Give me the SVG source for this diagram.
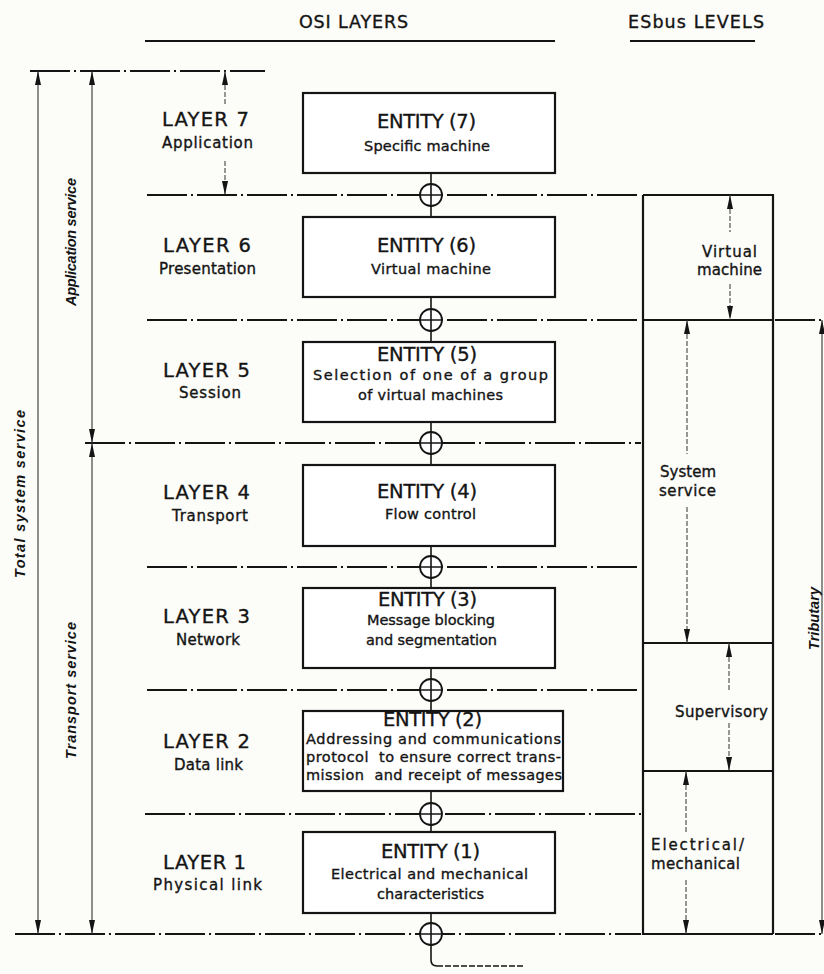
<svg xmlns="http://www.w3.org/2000/svg" width="824" height="974" viewBox="0 0 824 974">
  <style>
    text { font-family: "DejaVu Sans", "Liberation Sans", sans-serif; fill: #141414; stroke: #141414; stroke-width: 0.35; }
    .hdr { font-size: 17.5px; }
    .lay { font-size: 19.5px; }
    .sub { font-size: 15px; }
    .ent { font-size: 19.5px; }
    .desc { font-size: 14.5px; }
    .side { font-family: "Liberation Sans", "DejaVu Sans", sans-serif; font-size: 14.5px; font-weight: bold; font-style: italic; stroke-width: 0; }
    .box { fill: #ffffff; stroke: #141414; stroke-width: 2.2; }
    .col { fill: none; stroke: #141414; stroke-width: 2.2; }
    .bound { fill: none; stroke: #141414; stroke-width: 2; stroke-dasharray: 40 4 2 4; }
    .rule { fill: none; stroke: #141414; stroke-width: 2; }
    .dim { fill: none; stroke: #333; stroke-width: 1.1; }
    .dimd { fill: none; stroke: #444; stroke-width: 1.1; stroke-dasharray: 5 2; }
    .link { fill: none; stroke: #141414; stroke-width: 1.6; }
    .sap { fill: #ffffff; stroke: #141414; stroke-width: 1.8; }
  </style>
  <defs>
    <marker id="arr" markerUnits="userSpaceOnUse" markerWidth="15" markerHeight="8" refX="14" refY="4" orient="auto-start-reverse">
      <path d="M0,1 L14,4 L0,7 z" fill="#141414"/>
    </marker>
  </defs>

  <rect width="824" height="974" fill="#fcfcf8"/>

  <!-- column headings -->
  <g id="headings">
    <text class="hdr" x="299" y="28" textLength="109">OSI LAYERS</text>
    <line class="rule" x1="145" y1="41" x2="555" y2="41"/>
    <text class="hdr" x="628" y="28" textLength="136">ESbus LEVELS</text>
    <line class="rule" x1="630" y1="41" x2="755" y2="41"/>
  </g>

  <!-- layer boundaries -->
  <g id="boundaries">
    <line class="bound" x1="30" y1="71" x2="265" y2="71"/>
    <line class="bound" x1="147" y1="195" x2="641" y2="195"/>
    <line class="bound" x1="147" y1="320" x2="641" y2="320"/>
    <line class="bound" x1="775" y1="320" x2="824" y2="320"/>
    <line class="bound" x1="85" y1="443" x2="641" y2="443"/>
    <line class="bound" x1="147" y1="567" x2="641" y2="567"/>
    <line class="bound" x1="147" y1="690" x2="641" y2="690"/>
    <line class="bound" x1="145" y1="814" x2="641" y2="814"/>
    <line class="bound" x1="15" y1="934" x2="641" y2="934"/>
    <line class="bound" x1="775" y1="934" x2="824" y2="934"/>
  </g>

  <!-- connectors: inter-layer links and service access points -->
  <g id="connectors">
    <line class="link" x1="431" y1="173" x2="431" y2="217"/>
    <line class="link" x1="431" y1="297" x2="431" y2="342"/>
    <line class="link" x1="431" y1="422" x2="431" y2="465"/>
    <line class="link" x1="431" y1="546" x2="431" y2="588"/>
    <line class="link" x1="431" y1="668" x2="431" y2="711"/>
    <line class="link" x1="431" y1="791" x2="431" y2="832"/>
    <path class="link" d="M431,913 V960 Q431,966 437,966"/>
    <line class="link" x1="437" y1="966" x2="525" y2="966" stroke-dasharray="6 2"/>
    <g id="sap-6-7"><circle class="sap" cx="431" cy="195" r="11"/><path class="link" d="M420,195 H442 M431,184 V206"/></g>
    <g id="sap-5-6"><circle class="sap" cx="431" cy="320" r="11"/><path class="link" d="M420,320 H442 M431,309 V331"/></g>
    <g id="sap-4-5"><circle class="sap" cx="431" cy="443" r="11"/><path class="link" d="M420,443 H442 M431,432 V454"/></g>
    <g id="sap-3-4"><circle class="sap" cx="431" cy="567" r="11"/><path class="link" d="M420,567 H442 M431,556 V578"/></g>
    <g id="sap-2-3"><circle class="sap" cx="431" cy="690" r="11"/><path class="link" d="M420,690 H442 M431,679 V701"/></g>
    <g id="sap-1-2"><circle class="sap" cx="431" cy="814" r="11"/><path class="link" d="M420,814 H442 M431,803 V825"/></g>
    <g id="sap-medium"><circle class="sap" cx="431" cy="934" r="11"/><path class="link" d="M420,934 H442 M431,923 V945"/></g>
  </g>

  <!-- service extents (left) -->
  <g id="total-service">
    <line class="dim" x1="38" y1="71" x2="38" y2="934" marker-start="url(#arr)" marker-end="url(#arr)"/>
    <text class="side" transform="translate(25,578) rotate(-90)" x="0" y="0" textLength="168">Total system service</text>
  </g>
  <g id="application-service">
    <line class="dim" x1="92" y1="71" x2="92" y2="443" marker-start="url(#arr)" marker-end="url(#arr)"/>
    <text class="side" transform="translate(76,306) rotate(-90)" x="0" y="0" textLength="128">Application service</text>
  </g>
  <g id="transport-service">
    <line class="dim" x1="92" y1="443" x2="92" y2="934" marker-start="url(#arr)" marker-end="url(#arr)"/>
    <text class="side" transform="translate(76,759) rotate(-90)" x="0" y="0" textLength="137">Transport service</text>
  </g>

  <!-- layer names -->
  <g id="layer-7">
    <text class="lay" x="162" y="126" textLength="87">LAYER 7</text>
    <text class="sub" x="162" y="148" textLength="91">Application</text>
    <line class="dimd" x1="225" y1="71" x2="225" y2="104" marker-start="url(#arr)"/>
    <line class="dimd" x1="225" y1="161" x2="225" y2="195" marker-end="url(#arr)"/>
  </g>
  <g id="layer-6">
    <text class="lay" x="163" y="252" textLength="88">LAYER 6</text>
    <text class="sub" x="159" y="274" textLength="97">Presentation</text>
  </g>
  <g id="layer-5">
    <text class="lay" x="163" y="377" textLength="87">LAYER 5</text>
    <text class="sub" x="179" y="398" textLength="62">Session</text>
  </g>
  <g id="layer-4">
    <text class="lay" x="163" y="499" textLength="87">LAYER 4</text>
    <text class="sub" x="172" y="521" textLength="76">Transport</text>
  </g>
  <g id="layer-3">
    <text class="lay" x="163" y="623" textLength="87">LAYER 3</text>
    <text class="sub" x="176" y="645" textLength="64">Network</text>
  </g>
  <g id="layer-2">
    <text class="lay" x="163" y="748" textLength="87">LAYER 2</text>
    <text class="sub" x="174" y="770" textLength="69">Data link</text>
  </g>
  <g id="layer-1">
    <text class="lay" x="163" y="869" textLength="83">LAYER 1</text>
    <text class="sub" x="153" y="890" textLength="109">Physical link</text>
  </g>

  <!-- entities -->
  <g id="entity-7">
    <rect class="box" x="303" y="93" width="252" height="80"/>
    <text class="ent" x="377" y="128" textLength="99">ENTITY (7)</text>
    <text class="desc" x="364" y="151" textLength="126">Specific machine</text>
  </g>
  <g id="entity-6">
    <rect class="box" x="303" y="217" width="252" height="80"/>
    <text class="ent" x="377" y="252" textLength="99">ENTITY (6)</text>
    <text class="desc" x="371" y="274" textLength="120">Virtual machine</text>
  </g>
  <g id="entity-5">
    <rect class="box" x="303" y="342" width="252" height="80"/>
    <text class="ent" x="377" y="361" textLength="100">ENTITY (5)</text>
    <text class="desc" x="313" y="380" textLength="235">Selection of one of a group</text>
    <text class="desc" x="358" y="400" textLength="145">of virtual machines</text>
  </g>
  <g id="entity-4">
    <rect class="box" x="303" y="465" width="252" height="81"/>
    <text class="ent" x="377" y="498" textLength="100">ENTITY (4)</text>
    <text class="desc" x="385" y="519" textLength="91">Flow control</text>
  </g>
  <g id="entity-3">
    <rect class="box" x="303" y="588" width="252" height="80"/>
    <text class="ent" x="378" y="606" textLength="99">ENTITY (3)</text>
    <text class="desc" x="367" y="625" textLength="128">Message blocking</text>
    <text class="desc" x="366" y="645" textLength="131">and segmentation</text>
  </g>
  <g id="entity-2">
    <rect class="box" x="303" y="711" width="260" height="80"/>
    <text class="ent" x="383" y="726" textLength="99">ENTITY (2)</text>
    <text class="desc" x="306" y="744" textLength="255">Addressing and communications</text>
    <text class="desc" x="306" y="762" textLength="255" xml:space="preserve">protocol  to ensure correct trans-</text>
    <text class="desc" x="306" y="780" textLength="256" xml:space="preserve">mission  and receipt of messages</text>
  </g>
  <g id="entity-1">
    <rect class="box" x="303" y="832" width="252" height="81"/>
    <text class="ent" x="381" y="858" textLength="99">ENTITY (1)</text>
    <text class="desc" x="331" y="879" textLength="197">Electrical and mechanical</text>
    <text class="desc" x="377" y="899" textLength="107">characteristics</text>
  </g>

  <!-- ESbus level column -->
  <g id="esbus-column">
    <path class="col" d="M643,195 H773 V934 M643,195 V934 H773 M643,320 H773 M643,643 H773 M643,771 H773"/>
  </g>
  <g id="level-virtual-machine">
    <line class="dimd" x1="730" y1="195" x2="730" y2="232" marker-start="url(#arr)"/>
    <text class="sub" x="702" y="257" textLength="55">Virtual</text>
    <text class="sub" x="697" y="275" textLength="65">machine</text>
    <line class="dimd" x1="730" y1="284" x2="730" y2="320" marker-end="url(#arr)"/>
  </g>
  <g id="level-system-service">
    <line class="dimd" x1="687" y1="320" x2="687" y2="454" marker-start="url(#arr)"/>
    <text class="sub" x="660" y="477" textLength="56">System</text>
    <text class="sub" x="659" y="496" textLength="57">service</text>
    <line class="dimd" x1="687" y1="507" x2="687" y2="643" marker-end="url(#arr)"/>
  </g>
  <g id="level-supervisory">
    <line class="dimd" x1="729" y1="643" x2="729" y2="690" marker-start="url(#arr)"/>
    <text class="sub" x="675" y="717" textLength="93">Supervisory</text>
    <line class="dimd" x1="729" y1="723" x2="729" y2="771" marker-end="url(#arr)"/>
  </g>
  <g id="level-electrical">
    <line class="dimd" x1="686" y1="771" x2="686" y2="832" marker-start="url(#arr)"/>
    <text class="sub" x="651" y="850" textLength="93">Electrical/</text>
    <text class="sub" x="651" y="869" textLength="89">mechanical</text>
    <line class="dimd" x1="686" y1="880" x2="686" y2="934" marker-end="url(#arr)"/>
  </g>
  <g id="tributary">
    <line class="dim" x1="822" y1="320" x2="822" y2="934" marker-start="url(#arr)" marker-end="url(#arr)"/>
    <text class="side" transform="translate(819,650) rotate(-90)" x="0" y="0" textLength="63">Tributary</text>
  </g>
</svg>
